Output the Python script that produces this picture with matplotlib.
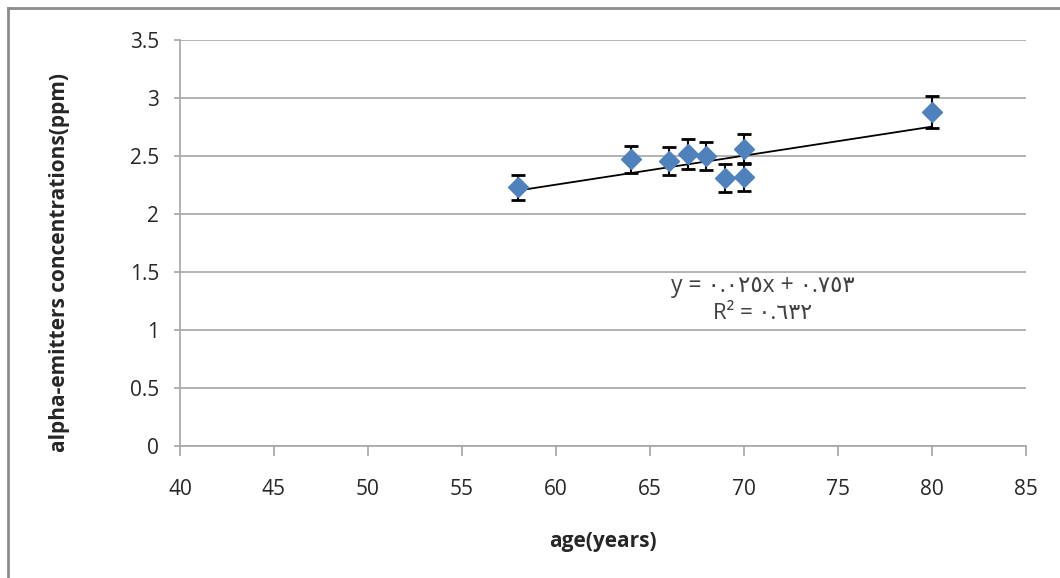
import matplotlib

matplotlib.use("Agg")
import matplotlib.pyplot as plt
from matplotlib.lines import Line2D

plt.rcParams["font.family"] = ["Open Sans", "DejaVu Sans"]

# samples: age (years) vs alpha-emitter concentration (ppm)
ages = [58, 64, 66, 67, 68, 69, 70, 70, 80]
concentrations = [2.23, 2.47, 2.46, 2.52, 2.50, 2.31, 2.56, 2.32, 2.88]
errors = [0.11, 0.12, 0.12, 0.13, 0.12, 0.12, 0.13, 0.12, 0.14]

# linear trendline from the fitted equation
slope = 0.025
intercept = 0.753
equation_text = "y = ٠.٠٢٥x + ٠.٧٥٣"
r2_text = "R² = ٠.٦٣٢"

x_ticks = [40, 45, 50, 55, 60, 65, 70, 75, 80, 85]
y_ticks = [0, 0.5, 1, 1.5, 2, 2.5, 3, 3.5]

GRID = "#a6a6a6"
TEXT = "#262626"

fig = plt.figure(figsize=(10.6, 5.78), dpi=100)
ax = fig.add_axes([180 / 1060, 1 - 446 / 578, (1026 - 180) / 1060, (446 - 40) / 578])

ax.set_xlim(40, 85)
ax.set_ylim(0, 3.5)
ax.set_xticks(x_ticks)
ax.set_yticks(y_ticks)
ax.set_yticklabels([f"{v:g}" for v in y_ticks])

ax.grid(axis="y", color=GRID, linewidth=1.2)
ax.set_axisbelow(True)
for side in ("top", "right"):
    ax.spines[side].set_visible(False)
for side in ("left", "bottom"):
    ax.spines[side].set_color(GRID)
    ax.spines[side].set_linewidth(1.2)
ax.tick_params(axis="both", direction="out", width=1.2, color=GRID,
               labelsize=15, labelcolor=TEXT)
ax.tick_params(axis="x", length=7, pad=17)
ax.tick_params(axis="y", length=4, pad=11)

x_line = [min(ages), max(ages)]
y_line = [slope * x + intercept for x in x_line]
ax.plot(x_line, y_line, color="black", linewidth=1.3, zorder=2)

ax.errorbar(ages, concentrations, yerr=errors, fmt="D", color="#4f81bd",
            markersize=10.5, ecolor="black", elinewidth=1.5, capsize=5,
            capthick=2, zorder=3)

ax.text(71.0, 1.38, equation_text, ha="center", va="center",
        fontsize=16.5, color="#404040", family=["Open Sans", "DejaVu Sans"])
ax.text(71.0, 1.14, r2_text, ha="center", va="center",
        fontsize=16, color="#404040", family=["Open Sans", "DejaVu Sans"])

ax.set_xlabel("age(years)", fontsize=15, fontweight="bold", color=TEXT, va="center")
ax.set_ylabel("alpha-emitters concentrations(ppm)", fontsize=15, fontweight="bold",
              color=TEXT, va="center")
ax.xaxis.set_label_coords(0.5, -(542 - 446) / 406)
ax.yaxis.set_label_coords(-(180 - 60) / 846, (446 - 262) / 406)

# outer chart frame (left and top edges)
fig.add_artist(Line2D([8 / 1060, 8 / 1060], [0, 1 - 8 / 578], color="#8c8c8c", linewidth=2))
fig.add_artist(Line2D([8 / 1060, 1], [1 - 8 / 578, 1 - 8 / 578], color="#8c8c8c", linewidth=2))

fig.savefig("out.png", dpi=100)
